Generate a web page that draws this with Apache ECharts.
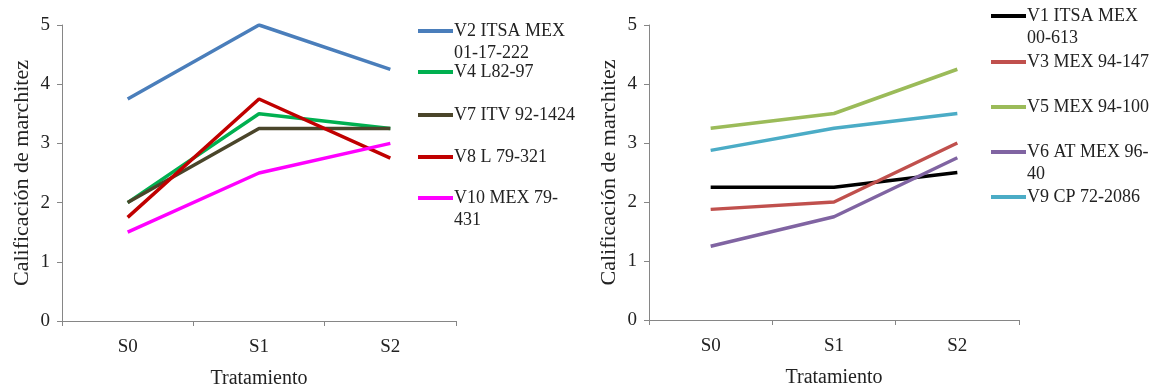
<!DOCTYPE html>
<html>
<head>
<meta charset="utf-8">
<script src="https://cdn.jsdelivr.net/npm/echarts@6/dist/echarts.min.js"></script>
<style>
  html, body { margin: 0; padding: 0; background: #fff; }
  #chart { width: 1155px; height: 387px; }
</style>
</head>
<body>
<div id="chart"></div>
<script>
var categories = ['S0', 'S1', 'S2'];
var yTicks = [0, 1, 2, 3, 4, 5];

// left panel
var leftNames = ['V2 ITSA MEX 01-17-222', 'V4 L82-97', 'V7 ITV 92-1424', 'V8 L 79-321', 'V10 MEX 79-431'];
var leftFirstLine = ['V2 ITSA MEX', 'V4 L82-97', 'V7 ITV 92-1424', 'V8 L 79-321', 'V10 MEX 79-'];
var leftSecondLine = ['01-17-222', '', '', '', '431'];
var v2 = [3.75, 5, 4.25];
var v4 = [2, 3.5, 3.25];
var v7 = [2, 3.25, 3.25];
var v8 = [1.75, 3.75, 2.75];
var v10 = [1.5, 2.5, 3];
var leftColors = ['#4a7ebb', '#00b050', '#4a452a', '#c00000', '#ff00ff'];

// right panel
var rightNames = ['V1 ITSA MEX 00-613', 'V3 MEX 94-147', 'V5 MEX 94-100', 'V6 AT MEX 96-40', 'V9 CP 72-2086'];
var rightFirstLine = ['V1 ITSA MEX', 'V3 MEX 94-147', 'V5 MEX 94-100', 'V6 AT MEX 96-', 'V9 CP 72-2086'];
var rightSecondLine = ['00-613', '', '', '40', ''];
var v1 = [2.25, 2.25, 2.5];
var v3 = [1.875, 2, 3];
var v5 = [3.25, 3.5, 4.25];
var v6 = [1.25, 1.75, 2.75];
var v9 = [2.875, 3.25, 3.5];
var rightColors = ['#000000', '#c0504d', '#9bbb59', '#8064a2', '#4bacc6'];

var leftData = [v2, v4, v7, v8, v10];
var rightData = [v1, v3, v5, v6, v9];

var font = 'Liberation Serif';
var axisColor = '#868686';

var chart = echarts.init(document.getElementById('chart'));

function xAxis(idx) {
    return {
        type: 'category',
        gridIndex: idx,
        data: categories,
        name: 'Tratamiento',
        nameLocation: 'middle',
        nameGap: 48,
        nameTextStyle: { fontFamily: font, fontSize: 20, color: '#222' },
        axisLine: { lineStyle: { color: axisColor } },
        axisTick: { show: true, length: 5, lineStyle: { color: axisColor } },
        axisLabel: { fontFamily: font, fontSize: 19, color: '#222', margin: 17 }
    };
}

function yAxis(idx) {
    return {
        type: 'value',
        gridIndex: idx,
        min: yTicks[0],
        max: yTicks[yTicks.length - 1],
        interval: 1,
        name: 'Calificación de marchitez',
        nameLocation: 'middle',
        nameGap: 29,
        nameTextStyle: { fontFamily: font, fontSize: 22, color: '#222' },
        axisLine: { show: true, lineStyle: { color: axisColor } },
        axisTick: { show: true, length: 5, lineStyle: { color: axisColor } },
        axisLabel: { fontFamily: font, fontSize: 19, color: '#222', margin: 12 },
        splitLine: { show: false }
    };
}

var series = [];
var legends = [];
var graphics = [];
var leftTops = [31, 72, 115, 157, 198];
var rightTops = [16, 62, 107, 152, 197];

function addPanel(idx, names, first, second, data, colors, tops, legendX) {
    names.forEach(function (n, i) {
        series.push({
            name: n,
            type: 'line',
            xAxisIndex: idx,
            yAxisIndex: idx,
            data: data[i],
            symbol: 'none',
            lineStyle: { width: 3.5, color: colors[i] },
            itemStyle: { color: colors[i] }
        });
        legends.push({
            data: [n],
            left: legendX,
            top: tops[i] - 9,
            padding: 0,
            icon: 'rect',
            itemWidth: 35,
            itemHeight: 4,
            itemGap: 0,
            formatter: function () { return first[i]; },
            textStyle: { fontFamily: font, fontSize: 18, color: '#222', padding: [0, 0, 0, -4] }
        });
        if (second[i]) {
            graphics.push({
                type: 'text',
                left: legendX + 36,
                top: tops[i] + 13,
                style: { text: second[i], font: '18px "Liberation Serif"', fill: '#222' }
            });
        }
    });
}

addPanel(0, leftNames, leftFirstLine, leftSecondLine, leftData, leftColors, leftTops, 418);
addPanel(1, rightNames, rightFirstLine, rightSecondLine, rightData, rightColors, rightTops, 991);

chart.setOption({
    animation: false,
    grid: [
        { left: 62, top: 25, width: 394, height: 296, outerBoundsMode: 'none', containLabel: false },
        { left: 649, top: 25, width: 370, height: 295, outerBoundsMode: 'none', containLabel: false }
    ],
    xAxis: [xAxis(0), xAxis(1)],
    yAxis: [yAxis(0), yAxis(1)],
    legend: legends,
    graphic: graphics,
    series: series
});
</script>
</body>
</html>
